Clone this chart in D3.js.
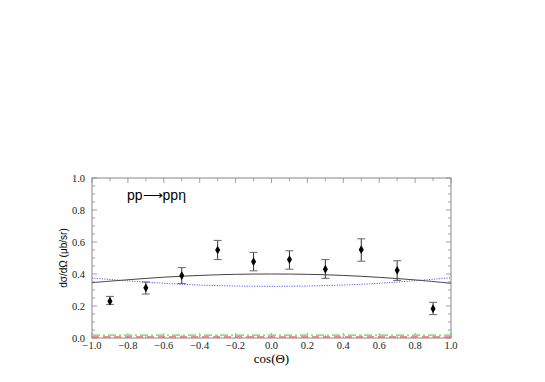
<!DOCTYPE html>
<html><head><meta charset="utf-8">
<script src="https://cdn.jsdelivr.net/npm/d3@7"></script>
<style>body{margin:0;background:#fff}</style>
</head><body>
<svg id="c" width="545" height="382"></svg>
<script>
const cosTheta = [-0.9,-0.7,-0.5,-0.3,-0.1,0.1,0.3,0.5,0.7,0.9];
const xsec     = [0.23,0.314,0.39,0.55,0.477,0.49,0.43,0.552,0.423,0.183];
const errLow   = [0.21,0.275,0.34,0.49,0.42,0.43,0.373,0.48,0.36,0.146];
const errHigh  = [0.26,0.35,0.44,0.61,0.535,0.545,0.49,0.62,0.483,0.223];
const curveX     = [-1.0,-0.8,-0.6,-0.4,-0.2,0.0,0.2,0.4,0.6,0.8,1.0];
const solidCurve = [0.346,0.364,0.38,0.391,0.398,0.400,0.398,0.391,0.379,0.363,0.342];
const dotCurve   = [0.375,0.357,0.342,0.331,0.325,0.323,0.325,0.331,0.342,0.358,0.377];
const greenCurve = [0.018,0.018,0.018,0.018,0.018,0.018,0.018,0.018,0.018,0.018,0.018];
const redCurve   = [0.006,0.006,0.006,0.006,0.006,0.006,0.006,0.006,0.006,0.006,0.006];
const xTicks = [-1.0,-0.8,-0.6,-0.4,-0.2,0.0,0.2,0.4,0.6,0.8,1.0];
const yTicks = [0.0,0.2,0.4,0.6,0.8,1.0];

const SERIF = "'Liberation Serif', 'Times New Roman', serif";
const SANS = "'Liberation Sans', Arial, sans-serif";
const svg = d3.select("#c");
const L=92,R=451,T=178,B=338;
const x = d3.scaleLinear().domain([-1,1]).range([L,R]);
const y = d3.scaleLinear().domain([0,1]).range([B,T]);
const fmt = v => (v<0?"\u2212":"")+Math.abs(v).toFixed(1);
const axisCol="#888";

svg.append("rect").attr("x",L).attr("y",T).attr("width",R-L).attr("height",B-T)
  .attr("fill","none").attr("stroke",axisCol).attr("stroke-width",1);

const gx = svg.append("g").attr("stroke",axisCol).attr("stroke-width",0.8);
d3.range(-10,11).forEach(i=>{
  const v=i/10, len = (i%2===0)?5:3;
  gx.append("line").attr("x1",x(v)).attr("x2",x(v)).attr("y1",B).attr("y2",B-len);
  gx.append("line").attr("x1",x(v)).attr("x2",x(v)).attr("y1",T).attr("y2",T+len);
});
d3.range(0,21).forEach(i=>{
  const v=i/20, len=(i%4===0)?5:3;
  gx.append("line").attr("y1",y(v)).attr("y2",y(v)).attr("x1",L).attr("x2",L+len);
  gx.append("line").attr("y1",y(v)).attr("y2",y(v)).attr("x1",R).attr("x2",R-len);
});

svg.append("g").selectAll("text").data(xTicks).join("text").style("font-family",SERIF)
  .attr("x",d=>x(d)).attr("y",B+11).attr("text-anchor","middle")
  .style("font-size","10.5px").attr("fill","#222").text(fmt);
svg.append("g").selectAll("text").data(yTicks).join("text").style("font-family",SERIF)
  .attr("x",L-7).attr("y",d=>y(d)+3.5).attr("text-anchor","end")
  .style("font-size","10.5px").attr("fill","#222").text(fmt);

svg.append("text").style("font-family",SERIF).attr("x",(L+R)/2).attr("y",B+25).attr("text-anchor","middle")
  .style("font-size","13px").text("cos(\u0398)");
svg.append("text").style("font-family",SANS).attr("transform",`translate(67,${(T+B)/2}) rotate(-90)`)
  .attr("text-anchor","middle").style("font-size","10px").text("d\u03c3/d\u03a9 (\u03bcb/sr)");
svg.append("text").style("font-family",SANS).attr("x",127).attr("y",200)
  .style("font-size","14px").text("pp\u27f6pp\u03b7");

const line = d3.line().x((d,i)=>x(curveX[i])).y(d=>y(d)).curve(d3.curveCatmullRom);
svg.append("path").attr("d",line(greenCurve)).attr("fill","none")
  .attr("stroke","#8fdc8f").attr("stroke-width",1.6).attr("stroke-dasharray","8,3,2,3");
svg.append("path").attr("d",line(redCurve)).attr("fill","none")
  .attr("stroke","#ee6a6a").attr("stroke-width",1.4).attr("stroke-dasharray","7,4");
svg.append("path").attr("d",line(dotCurve)).attr("fill","none")
  .attr("stroke","#3a3aff").attr("stroke-width",1).attr("stroke-dasharray","1,1.5");
svg.append("path").attr("d",line(solidCurve)).attr("fill","none")
  .attr("stroke","#444").attr("stroke-width",1);

const eb = svg.append("g");
cosTheta.forEach((c,i)=>{
  const px=x(c);
  eb.append("line").attr("x1",px).attr("x2",px).attr("y1",y(errLow[i])).attr("y2",y(errHigh[i]))
    .attr("stroke","#333").attr("stroke-width",1);
  [errLow[i],errHigh[i]].forEach(v=>{
    eb.append("line").attr("x1",px-4).attr("x2",px+4).attr("y1",y(v)).attr("y2",y(v))
      .attr("stroke","#666").attr("stroke-width",1);
  });
});
svg.append("g").selectAll("path").data(cosTheta).join("path")
  .attr("transform",(d,i)=>`translate(${x(d)},${y(xsec[i])})`)
  .attr("d",d3.symbol(d3.symbolDiamond,22)).attr("fill","#000");
</script>
</body></html>
